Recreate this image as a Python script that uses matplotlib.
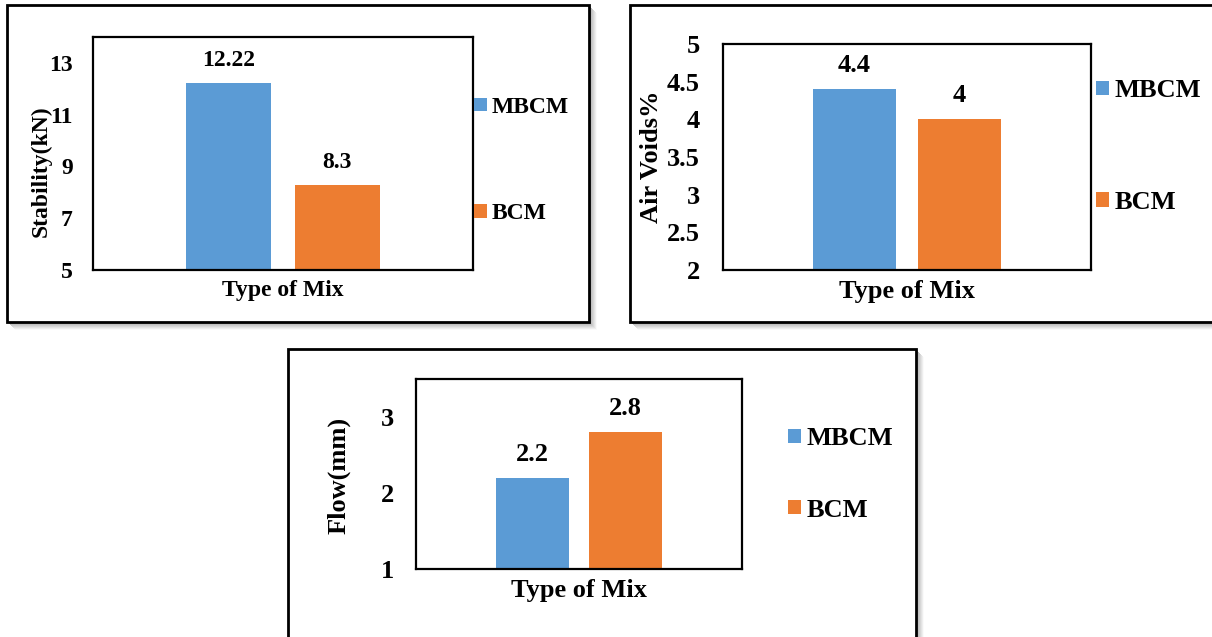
import matplotlib
matplotlib.use("Agg")
import matplotlib.pyplot as plt
from matplotlib.patches import Rectangle

# ---------------- data ----------------
categories = ["Type of Mix"]
series = ["MBCM", "BCM"]
stability = [12.22, 8.3]
air_voids = [4.4, 4.0]
flow = [2.2, 2.8]

stab_ticks = [5, 7, 9, 11, 13]
air_ticks = [2, 2.5, 3, 3.5, 4, 4.5, 5]
flow_ticks = [1, 2, 3]

colors = ["#5B9BD5", "#ED7D31"]
FONT = "Liberation Serif"

W, H = 1212, 637
fig = plt.figure(figsize=(W / 100, H / 100), dpi=100)


def fx(x):
    return x / W


def fy(y):
    return 1 - y / H


def box(x0, y0, x1, y1):
    # soft shadow to the right / bottom
    for k in range(8, 0, -1):
        g = 0.62 + 0.045 * k
        fig.add_artist(Rectangle((fx(x0 + k), fy(y1 + k)), fx(x1 - x0), (y1 - y0) / H,
                                 transform=fig.transFigure, facecolor=(g, g, g),
                                 edgecolor="none", zorder=-3))
    fig.add_artist(Rectangle((fx(x0), fy(y1)), fx(x1 - x0), (y1 - y0) / H,
                             transform=fig.transFigure, facecolor="white",
                             edgecolor="black", linewidth=2.0, zorder=-2))


def panel(rect, values, ylim, ticks, ylabel, fs, tickpad, ylab_x, ylab_y,
          leg_x, leg_y, spacing, hl, hh):
    x0, y0, x1, y1 = rect
    ax = fig.add_axes([fx(x0), fy(y1), fx(x1 - x0), (y1 - y0) / H])
    width = 0.224
    offsets = [-0.1425, 0.1425]
    for off, v, c, name in zip(offsets, values, colors, series):
        ax.bar(off, v - ylim[0], width, bottom=ylim[0], color=c, label=name, zorder=2)
        ax.annotate(f"{v:g}", (off, v), xytext=(0, 12.2), textcoords="offset points",
                    ha="center", va="baseline", fontsize=fs, fontweight="bold",
                    family=FONT)
    ax.set_xlim(-0.5, 0.5)
    ax.set_ylim(*ylim)
    ax.set_yticks(ticks)
    ax.set_yticklabels([f"{t:g}" for t in ticks])
    ax.set_xticks([0])
    ax.set_xticklabels(categories)
    ax.tick_params(axis="y", length=0, pad=tickpad)
    ax.tick_params(axis="x", length=0, pad=7)
    for lab in ax.get_yticklabels() + ax.get_xticklabels():
        lab.set_fontsize(fs)
        lab.set_fontweight("bold")
        lab.set_family(FONT)
    for s in ax.spines.values():
        s.set_linewidth(1.6)
        s.set_color("black")
    ax.set_ylabel(ylabel, fontsize=fs, fontweight="bold", family=FONT,
                  va="center", ha="center")
    ax.yaxis.set_label_coords((ylab_x - x0) / (x1 - x0), (y1 - ylab_y) / (y1 - y0))
    ax.legend(loc="center left", bbox_to_anchor=(fx(leg_x), fy(leg_y)),
              bbox_transform=fig.transFigure, frameon=False, borderpad=0,
              borderaxespad=0, handlelength=hl, handleheight=hh, handletextpad=0.2,
              labelspacing=spacing,
              prop={"family": FONT, "weight": "bold", "size": fs})
    return ax


# outer frames
box(7, 5, 589, 322)
box(630, 5, 1225, 322)
box(288, 349, 916, 650)

panel((93, 37, 473, 270), stability, (5, 14), stab_ticks, "Stability(kN)", 17, 14.4,
      41, 171, 474, 160.5, 3.62, 0.55, 0.5)
panel((723, 44, 1091, 270), air_voids, (2, 5), air_ticks, "Air Voids%", 19, 16.5,
      651, 157, 1096, 146.5, 3.37, 0.5, 0.45)
panel((416, 379, 742, 569), flow, (1, 3.5), flow_ticks, "Flow(mm)", 19, 15.8,
      339, 475, 788, 474.5, 1.82, 0.5, 0.45)

fig.savefig("out.png", dpi=100)
